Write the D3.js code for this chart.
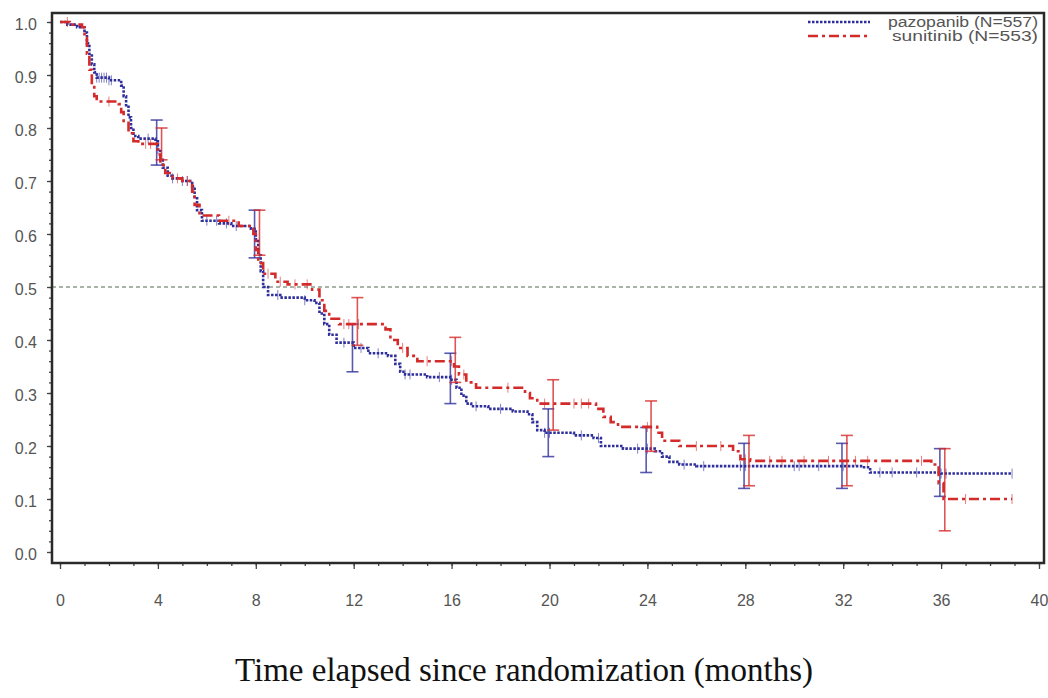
<!DOCTYPE html>
<html lang="en">
<head>
<meta charset="UTF-8">
<title>Kaplan-Meier: pazopanib vs sunitinib</title>
<script src="https://d3js.org/d3.v7.min.js"></script>
<style>
    body { margin: 0; background: #fff; }
    svg { display: block; }
    .tick text { font-family: Arial, "Liberation Sans", sans-serif; font-size: 16px; fill: #555; }
    .tick line { stroke: #444; stroke-width: 1.3; }
    .legend-text { font-family: Arial, "Liberation Sans", sans-serif; font-size: 14px; fill: #555; }
    .title { font-family: "Times New Roman", "Liberation Serif", serif; font-size: 33px; fill: #111; }
</style>
</head>
<body>
<svg width="1048" height="698"></svg>
<script>
    // 生存曲线数据 [月份, 生存率]
    const pazSteps = [
        [0, 1.0], [0.3, 0.995], [0.7, 0.99], [1.0, 0.98], [1.1, 0.96], [1.2, 0.94], [1.3, 0.92],
        [1.4, 0.905], [1.5, 0.895], [2.0, 0.89], [2.5, 0.88], [2.6, 0.86], [2.7, 0.84], [2.8, 0.82],
        [2.9, 0.80], [3.0, 0.785], [3.2, 0.78], [3.9, 0.775], [4.0, 0.76], [4.1, 0.74], [4.2, 0.725],
        [4.4, 0.71], [4.6, 0.705], [5.0, 0.70], [5.4, 0.69], [5.5, 0.67], [5.6, 0.645], [5.8, 0.625],
        [6.5, 0.62], [7.0, 0.615], [7.8, 0.61], [8.0, 0.59], [8.1, 0.56], [8.2, 0.53], [8.3, 0.50],
        [8.5, 0.485], [9.0, 0.48], [10.0, 0.475], [10.4, 0.47], [10.6, 0.45], [10.8, 0.43], [11.0, 0.41],
        [11.3, 0.395], [12.0, 0.385], [12.6, 0.375], [13.4, 0.37], [13.7, 0.355], [13.9, 0.34],
        [14.1, 0.335], [15.0, 0.33], [16.0, 0.325], [16.2, 0.31], [16.4, 0.295], [16.6, 0.28],
        [16.8, 0.275], [17.5, 0.27], [18.5, 0.265], [19.1, 0.26], [19.3, 0.245], [19.5, 0.23],
        [19.8, 0.225], [21.0, 0.22], [21.8, 0.215], [22.1, 0.20], [23.0, 0.195], [24.3, 0.19],
        [24.6, 0.18], [24.9, 0.17], [25.3, 0.165], [26.0, 0.162], [32.8, 0.16], [33.1, 0.15],
        [36.0, 0.148], [38.9, 0.148]
    ];
    const sunSteps = [
        [0, 1.0], [0.4, 0.995], [0.9, 0.99], [1.0, 0.97], [1.1, 0.94], [1.2, 0.91], [1.3, 0.88],
        [1.4, 0.86], [1.5, 0.85], [2.4, 0.845], [2.5, 0.83], [2.6, 0.81], [2.8, 0.79], [3.0, 0.775],
        [3.2, 0.77], [4.0, 0.75], [4.1, 0.73], [4.3, 0.715], [4.6, 0.705], [5.0, 0.70], [5.4, 0.68],
        [5.5, 0.655], [5.7, 0.635], [6.5, 0.625], [7.3, 0.615], [7.9, 0.60], [8.0, 0.57], [8.1, 0.545],
        [8.3, 0.525], [8.8, 0.51], [9.3, 0.505], [10.3, 0.495], [10.6, 0.475], [10.8, 0.455],
        [11.0, 0.44], [11.4, 0.43], [13.3, 0.42], [13.5, 0.40], [13.8, 0.385], [14.2, 0.37],
        [14.6, 0.36], [16.1, 0.35], [16.3, 0.335], [16.6, 0.32], [17.0, 0.31], [19.0, 0.30],
        [19.2, 0.29], [19.5, 0.28], [21.9, 0.27], [22.2, 0.255], [22.5, 0.245], [22.8, 0.236],
        [24.4, 0.225], [24.6, 0.21], [25.3, 0.20], [27.5, 0.19], [27.8, 0.175], [28.2, 0.172],
        [35.6, 0.165], [35.9, 0.13], [36.1, 0.10], [38.9, 0.10]
    ];

    // 删失时间
    const pazCensor = [1.5, 1.6, 1.7, 1.8, 1.9, 2.0, 2.1, 3.6, 4.0, 4.6, 5.0, 5.2, 6.0, 6.4, 6.8, 7.2,
        8.9, 10.0, 11.6, 12.3, 13.0, 14.1, 14.3, 15.5, 16.0, 17.0, 18.0, 19.8, 20.0, 21.3, 22.0, 23.6,
        24.0, 25.5, 26.3, 27.8, 28.0, 30.0, 30.2, 31.0, 32.0, 33.5, 34.0, 35.0, 36.0, 36.2, 38.9];
    const sunCensor = [0.3, 2.0, 3.5, 3.7, 4.8, 5.2, 6.9, 8.5, 9.0, 9.6, 10.1, 11.6, 11.8, 12.2, 14.0,
        15.0, 16.0, 16.5, 18.3, 19.8, 21.0, 21.3, 21.6, 24.0, 26.0, 27.0, 28.0, 29.0, 29.5, 30.4,
        31.4, 32.5, 33.0, 35.2, 37.0, 38.9];

    // 置信区间 [月份, 上限, 下限]
    const pazCI = [[4, 0.815, 0.73], [8, 0.645, 0.555], [12, 0.43, 0.34], [16, 0.375, 0.28],
        [20, 0.27, 0.18], [24, 0.235, 0.15], [28, 0.205, 0.12], [32, 0.205, 0.12], [36, 0.195, 0.105]];
    const sunCI = [[4, 0.80, 0.74], [8, 0.645, 0.56], [12, 0.48, 0.39], [16, 0.405, 0.32],
        [20, 0.325, 0.23], [24, 0.285, 0.19], [28, 0.22, 0.125], [32, 0.22, 0.125], [36, 0.195, 0.04]];

    const xTicks = [0, 4, 8, 12, 16, 20, 24, 28, 32, 36, 40];
    const yTicks = [0, 0.1, 0.2, 0.3, 0.4, 0.5, 0.6, 0.7, 0.8, 0.9, 1.0];
    const legendLabels = ["pazopanib (N=557)", "sunitinib (N=553)"];
    const axisTitle = "Time elapsed since randomization (months)";

    const blue = "#2f2f9c";
    const red = "#d42a2a";

    const svg = d3.select("svg");
    const frame = { left: 52, top: 13, right: 1044, bottom: 563 };

    const x = d3.scaleLinear().domain([0, 40]).range([60, 1039]);
    const y = d3.scaleLinear().domain([0, 1]).range([552, 22]);

    // 坐标轴
    svg.append("g")
        .attr("transform", `translate(0,${frame.bottom})`)
        .call(d3.axisBottom(x).tickValues(d3.range(0, 41, 1)).tickSize(3).tickFormat(""))
        .call(g => g.select(".domain").remove());
    svg.append("g")
        .attr("transform", `translate(0,${frame.bottom})`)
        .call(d3.axisBottom(x).tickValues(xTicks).tickSize(6).tickPadding(26).tickFormat(d3.format("d")))
        .call(g => g.select(".domain").remove());

    svg.append("g")
        .attr("transform", `translate(${frame.left},0)`)
        .call(d3.axisLeft(y).tickValues(d3.range(0, 1.001, 0.02)).tickSize(3).tickFormat(""))
        .call(g => g.select(".domain").remove());
    svg.append("g")
        .attr("transform", `translate(${frame.left},0)`)
        .call(d3.axisLeft(y).tickValues(yTicks).tickSize(5).tickPadding(10).tickFormat(d3.format(".1f")))
        .call(g => g.select(".domain").remove())
        .call(g => g.selectAll("text").attr("dy", "0.45em"));

    // 0.5 参考线
    svg.append("line")
        .attr("x1", frame.left).attr("x2", frame.right)
        .attr("y1", y(0.5)).attr("y2", y(0.5))
        .attr("stroke", "#8a9c8a").attr("stroke-width", 1.5)
        .attr("stroke-dasharray", "4,3");

    const line = d3.line()
        .x(d => x(d[0]))
        .y(d => y(d[1]))
        .curve(d3.curveStepAfter);

    // 生存率查找
    function survAt(steps, t) {
        let s = steps[0][1];
        for (const d of steps) { if (d[0] <= t) s = d[1]; }
        return s;
    }

    function drawSeries(steps, censor, ci, color, dash, ciShift) {
        svg.append("path")
            .datum(steps)
            .attr("d", line)
            .attr("fill", "none")
            .attr("stroke", color)
            .attr("stroke-width", 2.6)
            .attr("stroke-dasharray", dash);

        svg.append("g").selectAll("line")
            .data(censor)
            .join("line")
            .attr("x1", d => x(d)).attr("x2", d => x(d))
            .attr("y1", d => y(survAt(steps, d)) - 5)
            .attr("y2", d => y(survAt(steps, d)) + 5)
            .attr("stroke", color).attr("stroke-opacity", 0.6).attr("stroke-width", 1);

        const bars = svg.append("g").selectAll("g")
            .data(ci)
            .join("g")
            .attr("stroke", color).attr("stroke-opacity", 0.8).attr("stroke-width", 1.6);
        bars.append("line")
            .attr("x1", d => x(d[0] + ciShift)).attr("x2", d => x(d[0] + ciShift))
            .attr("y1", d => y(d[1])).attr("y2", d => y(d[2]));
        bars.append("line")
            .attr("x1", d => x(d[0] + ciShift) - 6).attr("x2", d => x(d[0] + ciShift) + 6)
            .attr("y1", d => y(d[1])).attr("y2", d => y(d[1]));
        bars.append("line")
            .attr("x1", d => x(d[0] + ciShift) - 6).attr("x2", d => x(d[0] + ciShift) + 6)
            .attr("y1", d => y(d[2])).attr("y2", d => y(d[2]));
    }

    drawSeries(pazSteps, pazCensor, pazCI, blue, "2.5,1.5", -0.05);
    drawSeries(sunSteps, sunCensor, sunCI, red, "10,4,3,4", 0.15);

    // 图框
    svg.append("rect")
        .attr("x", frame.left).attr("y", frame.top)
        .attr("width", frame.right - frame.left).attr("height", frame.bottom - frame.top)
        .attr("fill", "none").attr("stroke", "#2a2a2a").attr("stroke-width", 2.5);

    // 图例
    const legend = svg.append("g");
    [[blue, "2.5,1.5", 150], [red, "10,4,3,4", 146]].forEach((s, i) => {
        const ly = 27 + i * 14;
        legend.append("line")
            .attr("x1", 808).attr("x2", 870)
            .attr("y1", ly - 5).attr("y2", ly - 5)
            .attr("stroke", s[0]).attr("stroke-width", 2.4)
            .attr("stroke-dasharray", s[1]);
        legend.append("text")
            .attr("class", "legend-text")
            .attr("x", 1038).attr("y", ly)
            .attr("text-anchor", "end")
            .attr("textLength", s[2])
            .attr("lengthAdjust", "spacingAndGlyphs")
            .text(legendLabels[i]);
    });

    // x 轴标题
    svg.append("text")
        .attr("class", "title")
        .attr("x", 524).attr("y", 681)
        .attr("text-anchor", "middle")
        .text(axisTitle);
</script>
</body>
</html>
